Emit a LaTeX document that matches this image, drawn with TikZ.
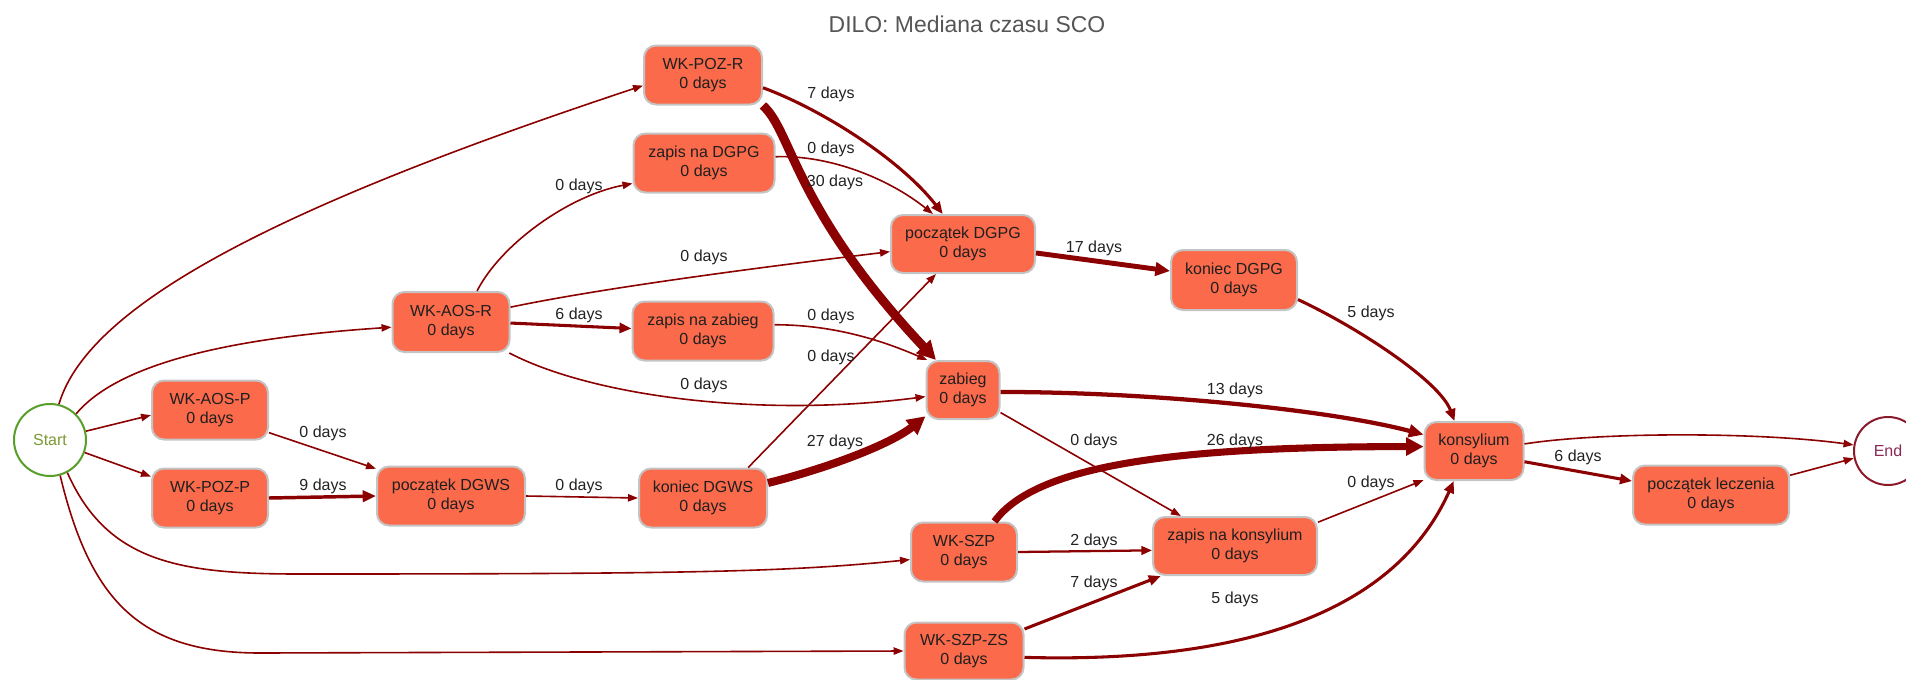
\documentclass[tikz,border=0pt]{standalone}
\usepackage{fontspec}
\setmainfont{Liberation Sans}
\usetikzlibrary{arrows.meta}
\definecolor{nodefill}{HTML}{FB6A4A}
\definecolor{nodeline}{HTML}{C4C4C4}
\definecolor{edgecol}{HTML}{8B0000}
\definecolor{startgreen}{HTML}{5A9E2A}
\definecolor{starttext}{HTML}{7A9A30}
\definecolor{endred}{HTML}{8B1A2A}
\definecolor{endtext}{HTML}{8B2A55}
\definecolor{titlegray}{HTML}{555555}
\definecolor{labeltext}{HTML}{222222}
\begin{document}
\begin{tikzpicture}[x=0.75pt,y=-0.75pt,
  proc/.style 2 args={draw=nodeline, line width=1.5pt, fill=nodefill, rounded corners=9pt,
    minimum width=#1*0.75pt, minimum height=#2*0.75pt, inner sep=0pt, align=center,
    font=\fontsize{12}{14}\selectfont, text=black!88},
  lbl/.style={font=\fontsize{12}{14}\selectfont, text=labeltext, inner sep=0pt},
  e0/.style={draw=edgecol, line width=1.2pt, -{Triangle[length=7.5pt,width=5.5pt]}},
  e2/.style={draw=edgecol, line width=1.7pt, -{Triangle[length=8pt,width=6.5pt]}},
  e5/.style={draw=edgecol, line width=2.3pt, -{Triangle[length=9pt,width=7.5pt]}},
  e9/.style={draw=edgecol, line width=2.6pt, -{Triangle[length=10pt,width=8.5pt]}},
  e13/.style={draw=edgecol, line width=3.2pt, -{Triangle[length=11pt,width=9.5pt]}},
  e17/.style={draw=edgecol, line width=3.7pt, -{Triangle[length=11pt,width=10pt]}},
  e26/.style={draw=edgecol, line width=5.3pt, -{Triangle[length=13pt,width=13pt]}},
  e27/.style={draw=edgecol, line width=6pt, -{Triangle[length=13.5pt,width=13.5pt]}},
  e30/.style={draw=edgecol, line width=6.75pt, -{Triangle[length=14pt,width=14pt]}}]
\useasboundingbox (0,0) rectangle (1906,679);

\node[font=\fontsize{17.2}{19}\selectfont, text=titlegray] (title) at (967,24) {DILO: Mediana czasu SCO};

\node[draw=startgreen, line width=1.5pt, circle, fill=white, minimum size=72*0.75pt, inner sep=0pt,
  text=starttext, font=\fontsize{12}{14}\selectfont] (start) at (50,440) {Start};
\node[draw=endred, line width=1.5pt, circle, fill=white, minimum size=68*0.75pt, inner sep=0pt,
  text=endtext, font=\fontsize{12}{14}\selectfont] (end) at (1888,451) {End};

\node[proc={118}{59}] (wkpozr) at (703,75) {WK-POZ-R\\0 days};
\node[proc={141}{59}] (zdgpg) at (704,163) {zapis na DGPG\\0 days};
\node[proc={144}{58}] (pdgpg) at (963,244) {początek DGPG\\0 days};
\node[proc={126}{60}] (kdgpg) at (1234,280) {koniec DGPG\\0 days};
\node[proc={117}{60}] (wkaosr) at (451,322) {WK-AOS-R\\0 days};
\node[proc={141}{59}] (zzab) at (703,331) {zapis na zabieg\\0 days};
\node[proc={73}{58}] (zabieg) at (963,390) {zabieg\\0 days};
\node[proc={116}{59}] (wkaosp) at (210,410) {WK-AOS-P\\0 days};
\node[proc={116}{59}] (wkpozp) at (210,498) {WK-POZ-P\\0 days};
\node[proc={148}{59}] (pdgws) at (451,496) {początek DGWS\\0 days};
\node[proc={128}{59}] (kdgws) at (703,498) {koniec DGWS\\0 days};
\node[proc={106}{59}] (wkszp) at (964,552) {WK-SZP\\0 days};
\node[proc={119}{57}] (wkszpzs) at (964,651) {WK-SZP-ZS\\0 days};
\node[proc={99}{58}] (kons) at (1474,451) {konsylium\\0 days};
\node[proc={164}{58}] (zkons) at (1235,546) {zapis na konsylium\\0 days};
\node[proc={156}{59}] (plecz) at (1711,495) {początek leczenia\\0 days};

\coordinate (w5) at (300,574);
\coordinate (w6) at (260,653);

\draw[e0] (start.76) .. controls +(31,-105) and +(-344,114) .. (wkpozr.190);
\draw[e0] (start.45) .. controls +(50,-60) and +(-120,8) .. (wkaosr.185);
\draw[e0] (start) -- (wkaosp.185);
\draw[e0] (start) -- (wkpozp.160);
\draw[e0] (start.-62) .. controls +(40,90) and +(-120,0) .. (w5) .. controls +(400,0) and +(-120,12) .. (wkszp.188);
\draw[e0] (start.-74) .. controls +(30,125) and +(-120,0) .. (w6) -- (wkszpzs.west);

\draw[e5] (wkpozr.-12) .. controls +(61,22.5) and +(-41,-53) .. (pdgpg.124);
\draw[e30] (wkpozr.-27) .. controls +(29,25.5) and +(-142,-151) .. (zabieg.132);
\draw[e0] (zdgpg.5) .. controls +(55,-2) and +(-44,-35) .. (pdgpg.135);
\draw[e0] (wkaosr.50) .. controls +(24,-47) and +(-63.5,12) .. (zdgpg.196);
\draw[e0] (wkaosr.14) .. controls +(100,-21) and +(-100,12) .. (pdgpg.186);
\draw[e5] (wkaosr.-1) -- (zzab.178);
\draw[e0] (wkaosr.-28) .. controls +(82.5,43) and +(-166.5,21.6) .. (zabieg.190);
\draw[e0] (zzab.5) .. controls +(56.5,0) and +(-48.5,-21) .. (zabieg.140);
\draw[e0] (kdgws.34) -- (pdgpg.228);
\draw[e27] (kdgws.13) .. controls +(60,-15) and +(-35,28) .. (zabieg.215);
\draw[e0] (wkaosp.-21) -- (pdgws.160);
\draw[e9] (wkpozp.east) -- (pdgws.west);
\draw[e0] (pdgws.east) -- (kdgws.west);
\draw[e17] (pdgpg.-7) -- (kdgpg.172);
\draw[e5] (kdgpg.-17) .. controls +(60,28) and +(-15,-40) .. (kons.123);
\draw[e13] (zabieg.-3) .. controls +(150,0) and +(-95,-25) .. (kons.162);
\draw[e0] (zabieg.-31) -- (zkons.151);
\draw[e26] (wkszp.45) .. controls +(41.5,-57.5) and +(-245,0) .. (kons.175);
\draw[e2] (wkszp.east) -- (zkons.183);
\draw[e5] (wkszpzs.20) -- (zkons.202);
\draw[e5] (wkszpzs.-6) .. controls +(276.5,7.7) and +(-44.4,100) .. (kons.236);
\draw[e0] (zkons.16) -- (kons.210);
\draw[e0] (kons.8) .. controls +(76.5,-12) and +(-94.5,-13) .. (end.170);
\draw[e5] (kons.-12) -- (plecz.170);
\draw[e0] (plecz.14) -- (end.192);

\node[lbl] (l1) at (831,94) {7 days};
\node[lbl] (l2) at (831,149) {0 days};
\node[lbl] (l3) at (835,182) {30 days};
\node[lbl] (l4) at (579,186) {0 days};
\node[lbl] (l5) at (704,257) {0 days};
\node[lbl] (l6) at (579,315) {6 days};
\node[lbl] (l7) at (831,316) {0 days};
\node[lbl] (l8) at (831,357) {0 days};
\node[lbl] (l9) at (704,385) {0 days};
\node[lbl] (l10) at (835,442) {27 days};
\node[lbl] (l11) at (323,433) {0 days};
\node[lbl] (l12) at (323,486) {9 days};
\node[lbl] (l13) at (579,486) {0 days};
\node[lbl] (l14) at (1094,248) {17 days};
\node[lbl] (l15) at (1371,313) {5 days};
\node[lbl] (l16) at (1235,390) {13 days};
\node[lbl] (l17) at (1094,441) {0 days};
\node[lbl] (l18) at (1235,441) {26 days};
\node[lbl] (l19) at (1371,483) {0 days};
\node[lbl] (l20) at (1578,457) {6 days};
\node[lbl] (l21) at (1094,541) {2 days};
\node[lbl] (l22) at (1094,583) {7 days};
\node[lbl] (l23) at (1235,599) {5 days};
\end{tikzpicture}
\end{document}
